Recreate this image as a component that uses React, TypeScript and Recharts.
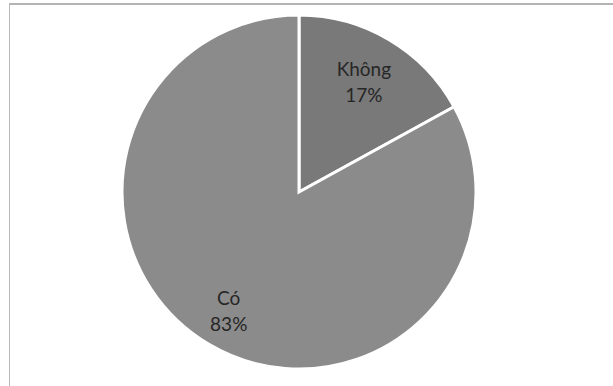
import React from 'react';
import { PieChart, Pie, Cell } from 'recharts';

const categories = ['Không', 'Có'];
const shares = [17, 83];
const sliceColors = ['#797979', '#8b8b8b'];

const data = categories.map((name, i) => ({ name, value: shares[i] }));

const RADIAN = Math.PI / 180;
const labelDepth = [0.72, 0.78];

const renderLabel = (props: any) => {
  const { cx, cy, midAngle, outerRadius, index, name, value } = props;
  const r = outerRadius * labelDepth[index];
  const x = cx + r * Math.cos(-midAngle * RADIAN);
  const y = cy + r * Math.sin(-midAngle * RADIAN);
  return (
    <text
      x={x}
      y={y}
      textAnchor="middle"
      fill="#262626"
      fontFamily="Lato, 'Open Sans', sans-serif"
      fontSize={19}
    >
      <tspan x={x} dy={-6}>{name}</tspan>
      <tspan x={x} dy={26}>{value}%</tspan>
    </text>
  );
};

export default function App() {
  return (
    <div style={{ position: 'fixed', left: 0, top: 0, width: 613, height: 386, background: '#ffffff' }}>
      <div
        style={{
          position: 'absolute',
          left: 9,
          top: 3,
          width: 604,
          height: 383,
          borderTop: '2px solid #b4b4b4',
          borderLeft: '1px solid #b8b8b8',
          boxSizing: 'border-box',
        }}
      />
      <div style={{ position: 'absolute', left: 0, top: 0 }}>
        <PieChart width={613} height={386} margin={{ top: 0, right: 0, bottom: 0, left: 0 }}>
          <Pie
            data={data}
            dataKey="value"
            nameKey="name"
            cx={299}
            cy={192}
            outerRadius={177}
            startAngle={90}
            endAngle={-270}
            stroke="#ffffff"
            strokeWidth={3}
            labelLine={false}
            label={renderLabel}
            isAnimationActive={false}
          >
            {data.map((d, i) => (
              <Cell key={d.name} fill={sliceColors[i]} />
            ))}
          </Pie>
        </PieChart>
      </div>
    </div>
  );
}
